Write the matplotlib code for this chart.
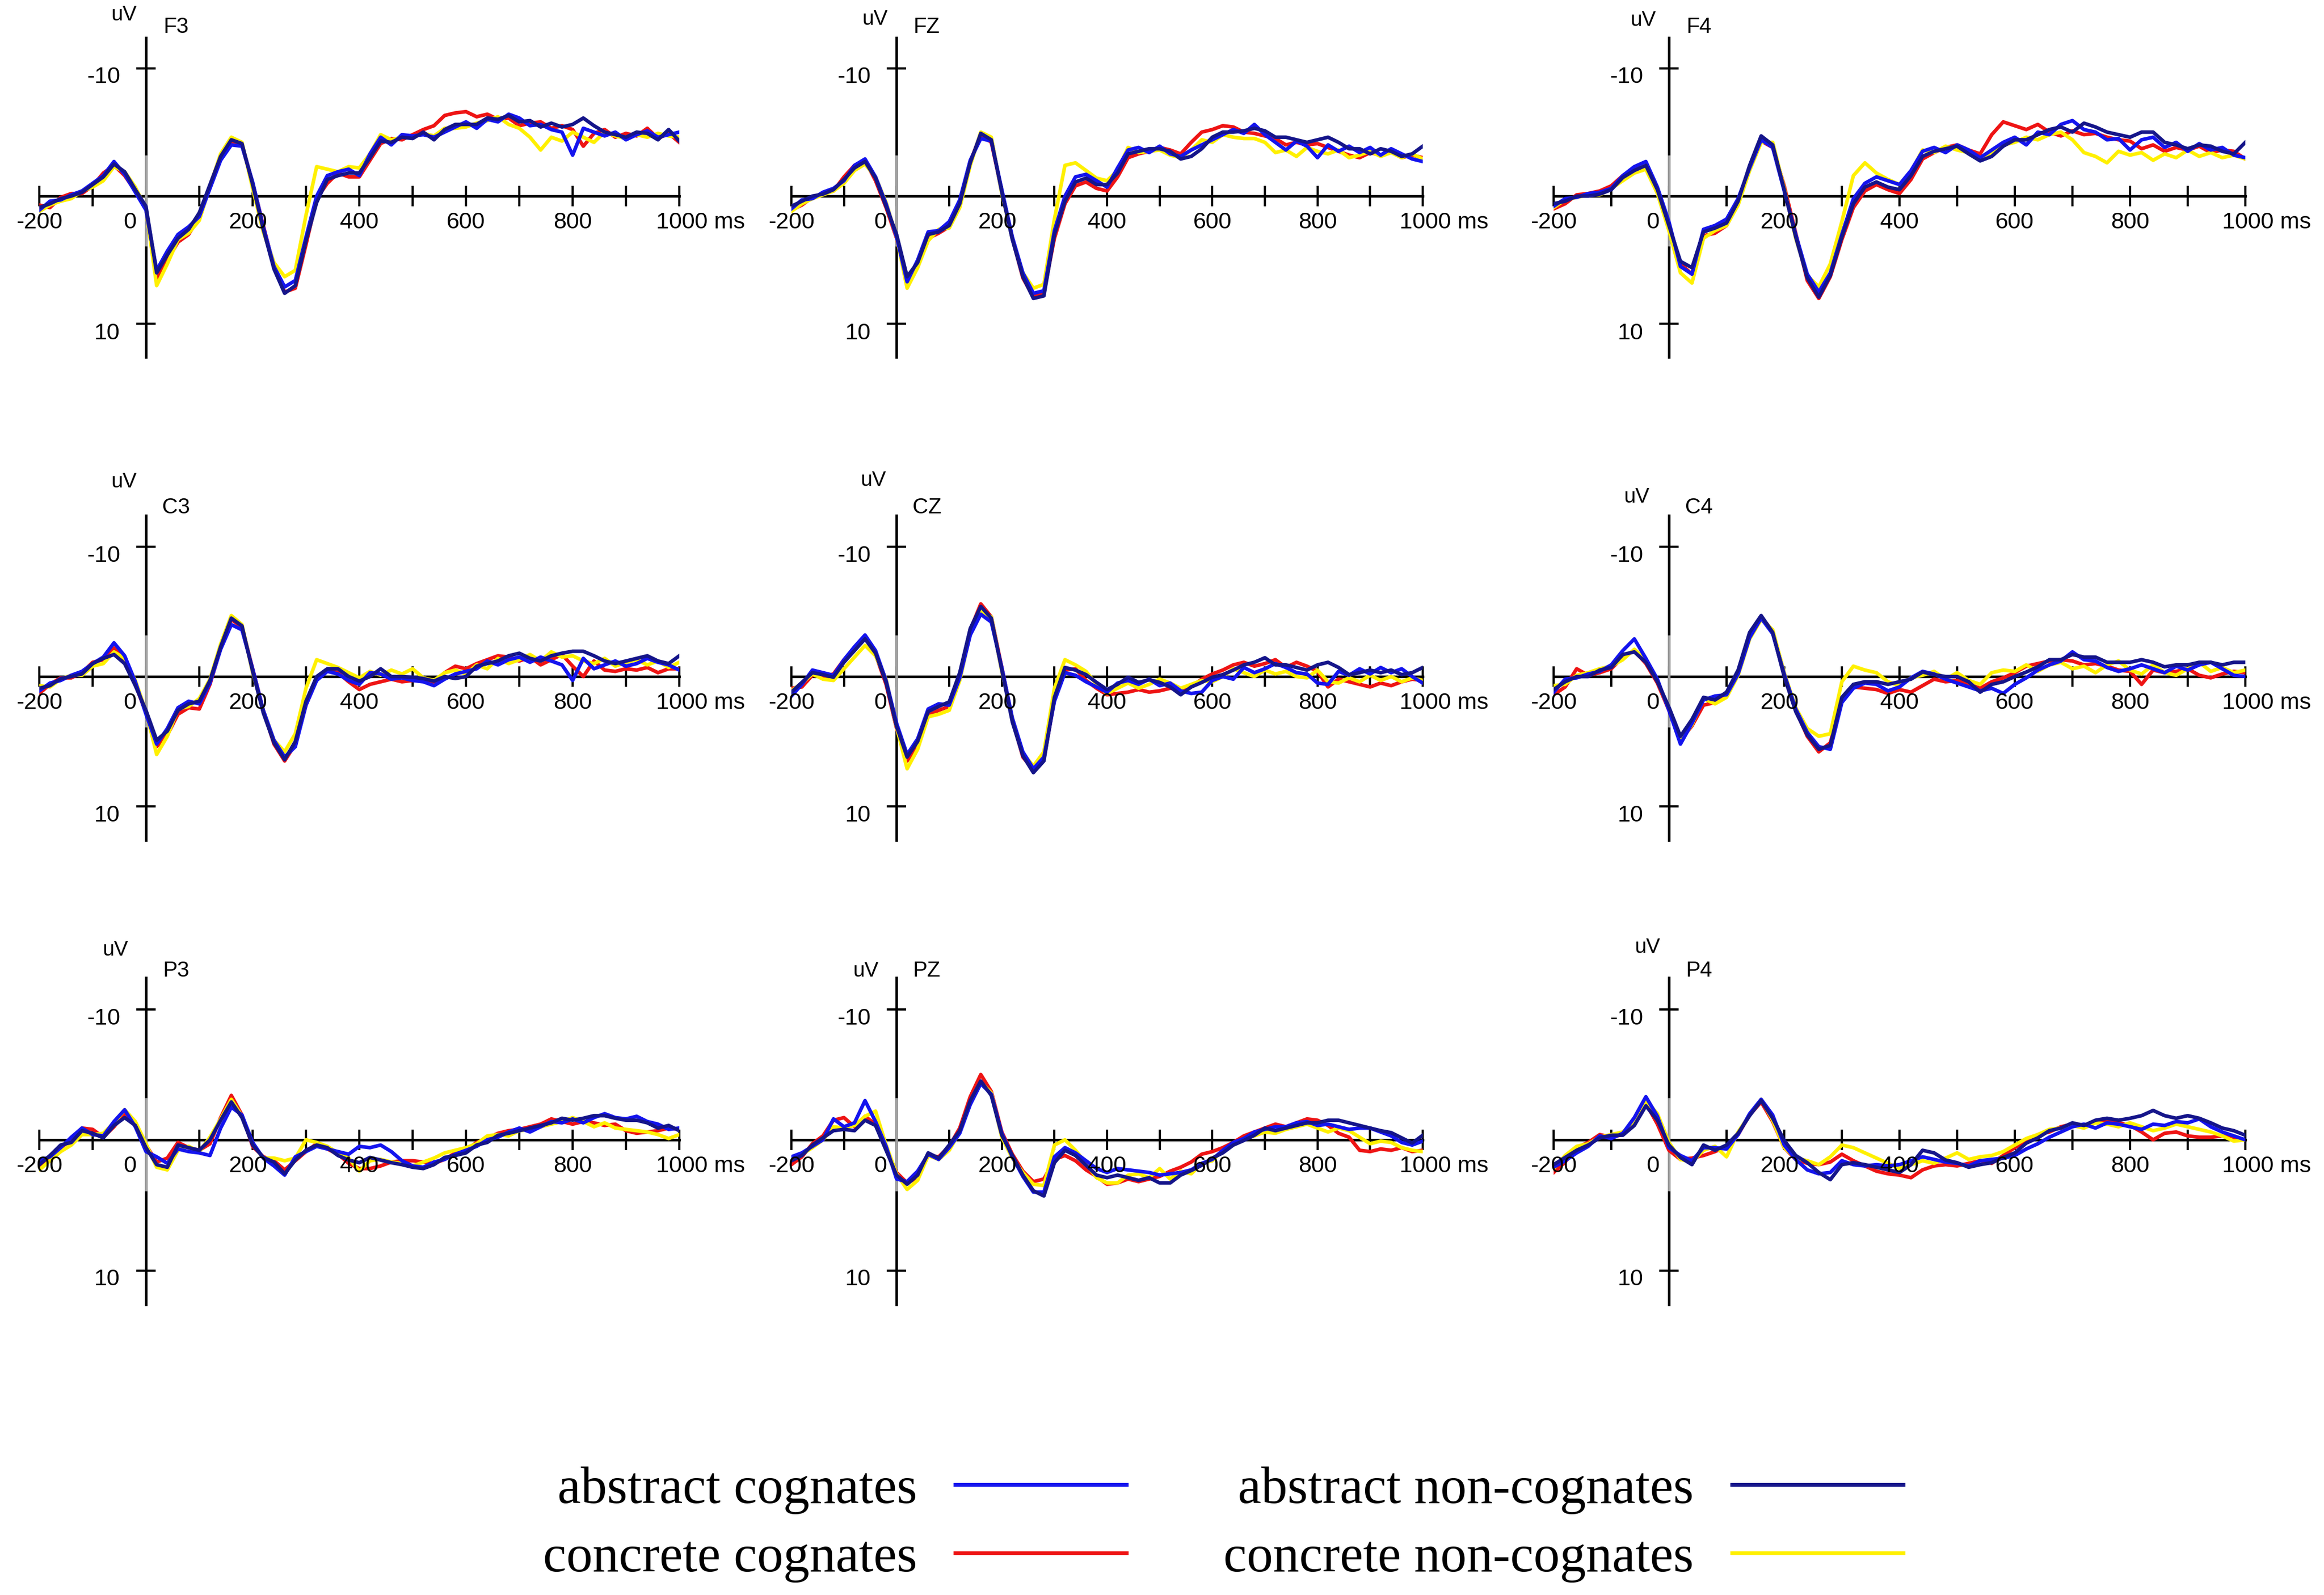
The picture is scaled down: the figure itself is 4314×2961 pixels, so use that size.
import matplotlib
matplotlib.use("Agg")
import matplotlib.pyplot as plt
from matplotlib.lines import Line2D

# ---------------- data ----------------
TIMES = list(range(-200, 1001, 20))  # sample times (ms)
X_TICKS = list(range(-200, 1001, 100))
X_LABELS = ["-200", "0", "200", "400", "600", "800", "1000 ms"]
X_LABEL_POS = [-200, 0, 200, 400, 600, 800, 1000]
Y_TICKS = [-10, 10]
Y_LABELS = ["-10", "10"]
CHANNELS = ["F3", "FZ", "F4", "C3", "CZ", "C4", "P3", "PZ", "P4"]
CONDITIONS = ["abstract cognates", "concrete cognates",
              "abstract non-cognates", "concrete non-cognates"]

F3_AC = [1.1, 0.4, 0.3, -0.1, -0.4, -1.0, -1.6, -2.7, -1.7, -0.3,
         1.1, 5.8, 4.3, 3.0, 2.4, 1.6, -0.6, -2.8, -4.0, -3.9,
         -1.1, 2.4, 5.5, 7.1, 6.6, 3.2, 0.0, -1.6, -1.9, -2.1,
         -1.6, -3.3, -4.6, -4.0, -4.8, -4.7, -4.8, -4.6, -5.0, -5.4,
         -5.8, -5.3, -6.0, -5.8, -6.4, -6.1, -5.5, -5.6, -5.2, -5.0,
         -3.2, -5.3, -5.0, -4.7, -5.0, -4.4, -4.8, -5.1, -4.6, -4.8,
         -5.0]
F3_CC = [0.7, 0.9, 0.1, -0.2, -0.2, -0.8, -1.8, -2.4, -1.6, -0.4,
         1.0, 6.4, 5.0, 3.6, 3.0, 1.6, -0.7, -3.0, -4.3, -4.0,
         -1.0, 2.3, 5.6, 7.5, 7.2, 3.8, 0.2, -1.0, -1.8, -1.5,
         -1.5, -2.8, -4.1, -4.5, -4.4, -4.8, -5.2, -5.5, -6.3, -6.5,
         -6.6, -6.2, -6.4, -6.0, -6.1, -5.5, -5.7, -5.8, -5.3, -5.5,
         -5.2, -3.9, -4.9, -5.2, -4.6, -4.9, -4.7, -5.3, -4.5, -4.9,
         -4.2]
F3_ANC = [0.9, 0.6, 0.2, 0.0, -0.3, -0.9, -1.5, -2.5, -1.9, -0.5,
          0.8, 6.0, 4.6, 3.3, 2.6, 1.3, -0.9, -3.1, -4.4, -4.1,
          -0.9, 2.6, 5.7, 7.6, 7.0, 3.5, 0.5, -1.3, -1.6, -1.8,
          -1.8, -3.0, -4.3, -4.2, -4.6, -4.5, -5.0, -4.4, -5.2, -5.6,
          -5.6, -5.6, -6.1, -6.0, -6.3, -5.8, -5.9, -5.4, -5.7, -5.4,
          -5.6, -6.1, -5.5, -5.0, -4.8, -4.6, -5.0, -4.9, -4.4, -5.2,
          -4.3]
F3_CNC = [1.2, 0.7, 0.4, 0.2, -0.4, -0.7, -1.2, -2.3, -1.9, -0.7,
          1.0, 7.0, 5.3, 3.4, 2.9, 1.9, -0.8, -3.3, -4.6, -4.2,
          -0.6, 2.8, 5.2, 6.3, 5.8, 1.5, -2.3, -2.1, -1.9, -2.3,
          -2.2, -3.3, -4.8, -4.4, -4.6, -4.6, -4.9, -4.7, -5.3, -5.3,
          -5.4, -5.7, -5.9, -6.2, -5.6, -5.3, -4.6, -3.6, -4.6, -4.3,
          -5.0, -4.6, -4.2, -5.0, -4.7, -4.5, -4.8, -4.6, -4.9, -4.7,
          -4.6]

FZ_AC = [1.0, 0.3, 0.2, -0.3, -0.6, -1.2, -2.4, -2.9, -1.5, 0.6,
         3.2, 6.7, 5.0, 2.8, 2.7, 2.0, 0.3, -2.8, -4.5, -4.3,
         -0.5, 3.2, 6.0, 7.6, 7.4, 2.7, 0.0, -1.5, -1.7, -1.2,
         -0.7, -2.2, -3.6, -3.8, -3.4, -3.9, -3.3, -3.1, -3.6, -4.0,
         -4.4, -4.8, -5.2, -4.9, -5.6, -4.8, -4.2, -3.6, -4.3, -3.9,
         -3.0, -4.0, -3.5, -3.9, -3.4, -3.8, -3.2, -3.7, -3.3, -2.9,
         -2.7]
FZ_CC = [1.1, 0.7, 0.1, -0.2, -0.4, -1.5, -2.4, -2.8, -1.2, 0.9,
         3.3, 6.6, 5.5, 3.3, 2.9, 2.4, 0.5, -2.7, -4.8, -4.2,
         -0.4, 3.3, 6.4, 7.9, 7.5, 3.3, 0.6, -0.8, -1.1, -0.6,
         -0.4, -1.5, -3.0, -3.3, -3.5, -3.8, -3.6, -3.3, -4.2, -5.0,
         -5.2, -5.5, -5.4, -5.0, -4.9, -4.7, -4.5, -4.0, -4.2, -4.0,
         -4.1, -3.8, -3.5, -3.2, -3.0, -3.4, -3.2, -3.5, -3.0, -3.2,
         -3.0]
FZ_ANC = [0.8, 0.4, 0.0, -0.15, -0.5, -1.3, -2.2, -2.7, -1.4, 0.8,
          3.0, 6.3, 5.2, 3.0, 2.8, 2.3, 0.6, -2.6, -4.9, -4.4,
          -0.3, 3.4, 6.3, 8.0, 7.8, 3.0, 0.4, -1.1, -1.4, -0.9,
          -0.9, -1.8, -3.3, -3.5, -3.7, -3.7, -3.5, -2.9, -3.1, -3.7,
          -4.6, -5.0, -5.0, -5.1, -5.3, -5.1, -4.6, -4.6, -4.4, -4.2,
          -4.4, -4.6, -4.2, -3.7, -3.7, -3.3, -3.7, -3.5, -3.1, -3.3,
          -3.9]
FZ_CNC = [1.2, 0.6, 0.2, -0.1, -0.4, -1.0, -2.0, -2.5, -1.5, 0.5,
          3.2, 7.2, 5.6, 3.5, 2.6, 2.5, 0.9, -2.4, -5.0, -4.6,
          -0.2, 3.3, 6.0, 7.2, 6.9, 1.8, -2.4, -2.6, -2.0, -1.4,
          -1.2, -2.0, -3.8, -3.4, -3.5, -3.6, -3.2, -3.0, -3.6, -4.4,
          -4.2, -4.8, -4.6, -4.5, -4.5, -4.2, -3.4, -3.6, -3.1, -3.8,
          -3.5, -3.3, -3.6, -3.0, -3.2, -3.5, -3.1, -3.4, -3.0, -3.3,
          -2.9]

F4_AC = [0.8, 0.2, 0.1, -0.2, -0.3, -0.6, -1.6, -2.3, -2.7, -0.7,
         2.0, 5.5, 6.1, 2.6, 2.3, 1.8, 0.2, -2.2, -4.4, -3.8,
         -0.4, 3.0, 6.1, 7.5, 6.0, 3.0, 0.2, -1.0, -1.5, -1.2,
         -0.9, -2.0, -3.5, -3.8, -3.4, -4.0, -3.6, -3.0, -3.6, -4.2,
         -4.6, -4.0, -5.0, -4.8, -5.6, -5.9, -5.2, -5.0, -4.4, -4.5,
         -3.6, -4.4, -4.6, -3.8, -4.2, -3.5, -4.1, -3.6, -3.8, -3.2,
         -3.0]
F4_CC = [1.0, 0.6, -0.1, -0.2, -0.4, -0.8, -1.6, -2.2, -2.2, -0.3,
         2.5, 5.3, 6.1, 3.1, 2.9, 2.3, 0.5, -2.2, -4.3, -3.8,
         -0.8, 2.9, 6.6, 8.0, 6.3, 3.4, 0.9, -0.4, -0.9, -0.5,
         -0.2, -1.3, -2.9, -3.4, -3.8, -4.0, -3.6, -3.3, -4.8, -5.8,
         -5.5, -5.2, -5.6, -5.0, -4.7, -5.1, -4.8, -4.9, -4.6, -4.4,
         -4.3, -3.7, -4.0, -3.5, -3.8, -3.6, -3.9, -3.4, -3.6, -3.5,
         -2.9]
F4_ANC = [0.6, 0.4, 0.0, 0.0, -0.15, -0.5, -1.45, -2.0, -2.4, -0.5,
          2.3, 5.1, 5.6, 2.8, 2.5, 2.1, 0.4, -2.4, -4.7, -4.0,
          -0.5, 3.2, 6.4, 7.9, 6.2, 3.2, 0.6, -0.7, -1.1, -0.7,
          -0.5, -1.6, -3.1, -3.5, -3.7, -3.9, -3.3, -2.75, -3.1, -3.9,
          -4.4, -4.4, -4.8, -5.2, -5.4, -5.0, -5.7, -5.4, -5.0, -4.8,
          -4.6, -5.0, -5.0, -4.2, -4.0, -3.7, -4.0, -3.9, -3.5, -3.3,
          -4.2]
F4_CNC = [0.9, 0.3, 0.1, -0.1, -0.1, -0.6, -1.2, -1.8, -2.1, -0.2,
          2.7, 6.0, 6.8, 3.3, 2.7, 2.3, 0.7, -2.0, -4.2, -4.2,
          -0.6, 3.3, 6.2, 7.1, 5.3, 2.0, -1.6, -2.6, -1.8, -1.3,
          -0.9, -1.9, -3.6, -3.4, -3.9, -3.6, -3.4, -3.0, -3.4, -4.0,
          -4.2, -4.6, -4.4, -4.8, -5.0, -4.4, -3.4, -3.1, -2.6, -3.5,
          -3.2, -3.4, -2.8, -3.3, -3.0, -3.6, -3.1, -3.4, -3.0, -3.2,
          -2.9]

C3_AC = [1.1, 0.5, 0.3, -0.1, -0.4, -1.0, -1.5, -2.6, -1.6, 0.4,
         2.9, 5.2, 4.0, 2.4, 1.9, 2.1, 0.5, -2.1, -4.0, -3.6,
         -0.6, 2.6, 4.9, 6.2, 5.4, 2.2, 0.3, -0.4, -0.2, 0.3,
         0.6, -0.3, -0.2, 0.2, 0.1, 0.3, 0.4, 0.7, 0.2, -0.2,
         -0.4, -0.6, -1.2, -0.9, -1.3, -1.5, -1.1, -1.5, -1.2, -0.9,
         0.3, -1.4, -0.6, -0.9, -1.2, -0.8, -1.0, -1.4, -1.1, -0.9,
         -0.5]
C3_CC = [1.3, 0.6, 0.1, 0.1, -0.3, -1.1, -1.3, -2.2, -1.2, 0.6,
         2.8, 5.4, 4.5, 2.9, 2.4, 2.5, 0.6, -2.2, -4.4, -3.8,
         -0.6, 2.6, 5.2, 6.5, 5.2, 2.2, 0.2, -0.5, -0.3, 0.4,
         1.0, 0.6, 0.4, 0.2, 0.4, 0.3, 0.2, 0.5, -0.3, -0.8,
         -0.6, -1.0, -1.3, -1.6, -1.5, -1.2, -1.5, -0.9, -1.3, -1.7,
         -0.8, 0.0, -1.2, -0.5, -0.4, -0.6, -0.5, -0.7, -0.3, -0.6,
         -0.6]
C3_ANC = [0.9, 0.7, 0.15, 0.0, -0.2, -1.0, -1.4, -1.7, -1.0, 0.7,
          2.6, 4.9, 4.2, 2.6, 2.1, 1.9, 0.3, -2.3, -4.5, -3.9,
          -0.4, 2.8, 5.1, 6.4, 5.0, 1.9, 0.0, -0.6, -0.6, 0.0,
          0.35, 0.0, -0.6, 0.0, 0.0, 0.05, 0.15, 0.35, 0.0, 0.15,
          0.0, -0.8, -1.0, -1.2, -1.6, -1.8, -1.4, -1.2, -1.6, -1.8,
          -1.95, -1.95, -1.6, -1.2, -1.0, -1.2, -1.4, -1.6, -1.2, -1.0,
          -1.6]
C3_CNC = [0.7, 0.8, 0.2, -0.1, -0.1, -0.8, -1.0, -1.9, -1.4, 0.3,
          2.7, 6.0, 4.6, 2.5, 2.3, 1.7, 0.2, -2.5, -4.7, -4.0,
          -0.3, 2.6, 4.9, 5.8, 4.4, 0.9, -1.3, -1.0, -0.7, -0.3,
          0.1, -0.4, -0.1, -0.5, -0.2, -0.6, 0.1, 0.3, -0.3, -0.5,
          -0.2, -0.9, -0.6, -1.4, -1.0, -1.3, -1.7, -1.2, -1.9, -1.5,
          -1.6, -1.2, -1.0, -1.4, -0.8, -1.1, -1.3, -0.9, -1.2, -0.7,
          -1.1]

CZ_AC = [1.5, 0.6, -0.5, -0.3, -0.1, -1.3, -2.3, -3.2, -2.0, 0.3,
         3.6, 6.0, 4.8, 2.5, 2.1, 2.2, 0.1, -3.2, -4.8, -4.2,
         -0.7, 3.2, 5.8, 7.1, 6.2, 1.9, -0.3, -0.1, 0.4, 0.8,
         1.2, 0.5, 0.3, 0.6, 0.2, 0.7, 0.5, 1.1, 1.3, 1.2,
         0.3, 0.0, 0.2, -0.7, -0.3, -0.6, -1.0, -0.7, -0.3, -0.2,
         0.5, 0.6, -0.4, -0.1, -0.6, -0.2, -0.7, -0.3, -0.6, 0.0,
         0.5]
CZ_CC = [0.9, 0.8, -0.1, 0.0, -0.2, -1.3, -2.2, -3.0, -1.7, 0.6,
         4.0, 6.5, 5.3, 3.0, 2.6, 2.3, -0.1, -3.6, -5.6, -4.6,
         -0.7, 3.3, 6.2, 7.2, 6.3, 1.8, -0.5, -0.6, 0.3, 0.9,
         1.4, 1.3, 1.2, 1.0, 1.2, 1.1, 0.9, 1.0, 0.8, 0.2,
         -0.2, -0.5, -0.9, -1.1, -0.8, -1.0, -1.3, -0.7, -1.1, -0.8,
         -0.4, 0.8, 0.2, 0.4, 0.6, 0.8, 0.5, 0.7, 0.4, 0.2,
         0.3]
CZ_ANC = [1.2, 0.45, -0.3, -0.15, 0.05, -1.1, -2.0, -2.9, -1.8, 0.45,
          3.85, 6.2, 5.0, 2.7, 2.3, 1.95, -0.3, -3.7, -5.4, -4.5,
          -0.5, 3.5, 6.1, 7.4, 6.5, 1.6, -0.7, -0.5, -0.15, 0.45,
          1.0, 0.6, 0.05, 0.45, 0.25, 0.45, 0.8, 1.4, 0.8, 0.45,
          0.05, -0.15, -0.5, -0.9, -1.1, -1.45, -0.9, -0.9, -0.7, -0.5,
          -0.9, -1.1, -0.7, -0.15, -0.3, -0.5, -0.3, -0.5, -0.15, -0.3,
          -0.7]
CZ_CNC = [1.1, 0.5, -0.2, 0.2, 0.3, -0.6, -1.5, -2.4, -1.6, 0.2,
          3.9, 7.1, 5.6, 3.1, 2.9, 2.6, 0.3, -3.3, -5.0, -4.6,
          -0.4, 3.2, 5.9, 6.9, 5.8, 0.9, -1.3, -0.9, -0.4, 0.6,
          1.3, 0.9, 0.5, 0.9, 0.6, 0.2, 0.5, 0.9, 0.6, 0.3,
          0.4, 0.0, -0.6, -0.3, 0.0, -0.5, -0.2, -0.4, 0.0, 0.1,
          -0.5, 0.4, 0.5, 0.1, 0.4, -0.1, 0.3, 0.0, 0.4, 0.1,
          0.3]

C4_AC = [1.2, 0.2, 0.1, -0.2, -0.4, -0.9, -2.0, -2.9, -1.4, 0.2,
         2.6, 5.2, 3.6, 1.8, 1.5, 1.4, -0.2, -3.0, -4.5, -3.3,
         -0.2, 2.5, 4.3, 5.4, 5.6, 2.0, 0.9, 0.5, 0.6, 1.1,
         0.8, 0.1, -0.4, -0.2, 0.2, 0.5, 0.8, 1.1, 0.9, 1.3,
         0.6, 0.1, -0.5, -0.9, -1.2, -1.9, -1.3, -1.2, -0.7, -0.4,
         -0.6, -0.9, -0.6, -0.3, -0.8, -0.5, -0.9, -1.1, -0.6, -0.1,
         0.0]
C4_CC = [1.4, 0.8, -0.6, -0.1, -0.3, -0.6, -1.5, -2.0, -1.0, 0.5,
         2.6, 4.9, 3.8, 2.2, 2.0, 1.4, -0.3, -3.2, -4.6, -3.5,
         -0.1, 2.6, 4.6, 5.8, 5.1, 1.8, 0.8, 0.9, 1.0, 1.3,
         1.0, 1.2, 0.7, 0.2, 0.4, 0.3, 0.6, 0.9, 0.4, 0.1,
         -0.3, -0.8, -1.0, -1.2, -1.3, -1.2, -0.9, -1.0, -0.8, -0.5,
         -0.4, 0.6, -0.5, -0.3, -0.4, -0.6, -0.1, 0.1, -0.2, -0.4,
         -0.3]
C4_ANC = [1.0, 0.4, 0.0, 0.0, -0.5, -0.7, -1.7, -1.9, -1.1, 0.4,
          2.35, 4.6, 3.3, 1.6, 1.8, 1.2, -0.5, -3.4, -4.7, -3.4,
          0.0, 2.7, 4.5, 5.6, 5.3, 1.6, 0.6, 0.4, 0.4, 0.6,
          0.4, 0.2, -0.35, -0.15, 0.0, 0.0, 0.4, 1.2, 0.6, 0.4,
          0.0, -0.35, -0.75, -1.3, -1.3, -1.7, -1.5, -1.5, -1.1, -1.1,
          -1.1, -1.3, -1.1, -0.75, -0.9, -0.9, -1.1, -1.1, -0.9, -1.1,
          -1.1]
C4_CNC = [0.7, 0.6, -0.1, -0.3, -0.6, -0.8, -1.3, -2.1, -1.3, 0.3,
          2.5, 5.0, 3.7, 1.7, 2.1, 1.6, -0.1, -2.9, -4.4, -3.6,
          -0.3, 2.4, 4.0, 4.6, 4.4, 0.4, -0.8, -0.5, -0.3, 0.4,
          0.7, 0.1, -0.1, -0.4, 0.2, -0.3, 0.3, 0.6, -0.3, -0.5,
          -0.4, -0.9, -0.4, -0.9, -1.1, -0.6, -0.8, -0.3, -0.9, -1.2,
          -0.5, -0.2, -0.9, -0.3, -0.1, -0.6, -1.1, -0.4, -0.7, -0.3,
          -0.5]

P3_AC = [1.6, 1.3, 0.6, -0.2, -0.9, -0.4, -0.3, -1.4, -2.3, -1.0,
         0.9, 1.3, 1.8, 0.7, 0.9, 1.0, 1.2, -0.9, -2.5, -1.9,
         0.2, 1.4, 2.0, 2.7, 1.3, 0.9, 0.5, 0.7, 0.9, 1.1,
         0.5, 0.6, 0.4, 0.9, 1.6, 2.0, 2.1, 1.7, 1.5, 1.1,
         0.8, 0.5, 0.0, -0.2, -0.6, -0.9, -0.6, -1.0, -1.4, -1.3,
         -1.6, -1.3, -1.7, -2.0, -1.7, -1.6, -1.8, -1.4, -1.2, -0.8,
         -0.9]
P3_CC = [2.0, 1.5, 0.6, 0.0, -0.9, -0.8, -0.2, -1.0, -2.0, -1.2,
         0.4, 1.7, 1.4, 0.2, 0.6, 0.8, 0.3, -1.7, -3.4, -1.9,
         0.5, 1.3, 1.6, 2.3, 1.6, 0.9, 0.3, 0.7, 1.1, 1.8,
         2.2, 2.2, 2.0, 1.7, 1.6, 1.6, 1.7, 1.8, 1.5, 1.0,
         0.8, 0.2, -0.1, -0.5, -0.7, -0.8, -1.0, -1.2, -1.6, -1.4,
         -1.2, -1.4, -1.3, -1.1, -1.2, -0.7, -0.5, -0.6, -0.7, -0.9,
         -0.8]
P3_ANC = [1.9, 1.2, 0.4, 0.2, -0.7, -0.5, -0.15, -1.1, -1.7, -1.1,
          0.6, 1.9, 2.1, 0.4, 0.6, 0.8, 0.0, -1.5, -2.9, -1.7,
          0.4, 1.35, 1.7, 2.6, 1.55, 0.8, 0.4, 0.6, 1.2, 1.55,
          1.75, 1.35, 1.55, 1.75, 1.9, 2.1, 2.2, 1.9, 1.35, 1.2,
          1.0, 0.4, 0.2, -0.35, -0.5, -0.7, -0.9, -1.1, -1.3, -1.65,
          -1.5, -1.65, -1.85, -1.85, -1.65, -1.5, -1.5, -1.3, -0.9, -1.1,
          -0.7]
P3_CNC = [2.3, 1.6, 0.9, 0.4, -0.4, -0.4, -0.5, -1.3, -2.3, -1.4,
          0.3, 2.1, 2.3, 0.8, 0.5, 0.9, -0.2, -1.6, -3.1, -1.8,
          0.3, 1.4, 1.4, 1.6, 1.4, 0.0, 0.2, 0.5, 1.0, 1.4,
          2.4, 1.6, 1.5, 1.7, 1.8, 2.0, 1.7, 1.4, 1.0, 0.8,
          0.6, 0.3, -0.3, -0.4, -0.3, -0.7, -0.8, -1.0, -1.2, -1.4,
          -1.7, -1.4, -1.0, -1.3, -0.9, -0.8, -0.7, -0.6, -0.4, -0.1,
          -0.4]

PZ_AC = [1.3, 1.0, 0.5, 0.0, -1.6, -1.0, -1.3, -3.0, -1.4, 0.5,
         3.0, 3.2, 2.4, 1.1, 1.5, 0.6, -0.5, -2.7, -4.3, -3.5,
         -0.5, 1.3, 2.8, 4.0, 4.0, 1.3, 0.6, 1.0, 1.6, 2.2,
         2.5, 2.2, 2.3, 2.4, 2.5, 2.7, 2.6, 2.5, 2.3, 1.8,
         1.5, 0.8, 0.2, -0.1, -0.6, -0.8, -1.0, -1.0, -1.3, -1.4,
         -1.1, -1.2, -1.0, -0.8, -0.9, -0.9, -0.6, -0.3, 0.2, 0.4,
         0.1]
PZ_CC = [1.9, 1.3, 0.3, -0.3, -1.5, -1.7, -1.0, -1.8, -1.2, 0.7,
         2.5, 3.3, 2.9, 1.2, 1.3, 0.5, -0.9, -3.3, -5.0, -3.7,
         -0.6, 1.1, 2.4, 3.2, 3.0, 1.5, 1.2, 1.6, 2.3, 2.8,
         3.4, 3.3, 3.0, 3.2, 3.0, 2.8, 2.4, 2.1, 1.7, 1.1,
         0.9, 0.6, 0.2, -0.3, -0.6, -0.9, -1.2, -1.0, -1.3, -1.6,
         -1.5, -1.1, -0.5, -0.2, 0.8, 0.9, 0.7, 0.8, 0.6, 0.9,
         0.8]
PZ_ANC = [1.6, 1.2, 0.4, -0.15, -0.7, -0.8, -0.7, -1.5, -1.1, 0.8,
          2.7, 3.4, 2.7, 1.0, 1.4, 0.4, -0.7, -3.0, -4.5, -3.4,
          -0.35, 1.2, 2.7, 3.9, 4.3, 1.75, 0.8, 1.2, 1.95, 2.7,
          2.9, 2.7, 2.9, 3.1, 2.9, 3.3, 3.3, 2.7, 2.35, 1.95,
          1.4, 1.0, 0.4, 0.05, -0.35, -0.9, -0.7, -0.9, -1.1, -1.3,
          -1.3, -1.5, -1.5, -1.3, -1.1, -0.9, -0.7, -0.55, -0.15, 0.25,
          -0.35]
PZ_CNC = [1.5, 1.1, 0.6, 0.0, -1.0, -0.9, -1.1, -1.8, -2.2, 0.4,
          2.6, 3.8, 3.1, 1.2, 1.5, 0.8, -0.6, -2.9, -4.4, -3.6,
          -0.2, 1.4, 2.5, 3.4, 3.5, 0.4, 0.0, 0.8, 1.8, 2.9,
          3.3, 3.3, 2.7, 2.6, 2.9, 2.2, 3.0, 2.4, 2.6, 1.8,
          1.6, 0.8, 0.4, -0.1, -0.3, -0.6, -0.5, -0.8, -1.0, -1.2,
          -0.9, -0.6, -0.9, -0.7, -0.2, 0.3, 0.1, 0.2, 0.6, 0.8,
          0.9]

P4_AC = [2.1, 1.6, 1.0, 0.5, -0.3, -0.1, -0.5, -1.7, -3.3, -1.8,
         0.6, 1.2, 1.6, 0.6, 0.6, 0.7, -0.4, -2.0, -3.1, -1.9,
         0.4, 1.5, 2.3, 2.6, 2.5, 1.6, 1.9, 2.0, 1.9, 2.0,
         1.9, 1.6, 1.3, 1.5, 1.7, 1.8, 2.0, 1.6, 1.5, 1.4,
         1.2, 0.7, 0.3, -0.2, -0.6, -1.0, -1.2, -0.9, -1.3, -1.2,
         -1.0, -0.8, -1.2, -1.1, -1.4, -1.3, -1.6, -1.0, -0.6, -0.3,
         0.0]
P4_CC = [2.5, 1.7, 0.6, 0.2, -0.4, -0.2, -0.4, -1.4, -2.8, -1.2,
         0.8, 1.5, 1.4, 1.2, 0.9, 0.5, -0.4, -1.9, -2.9, -1.4,
         0.6, 1.5, 1.8, 1.9, 1.7, 1.1, 1.6, 2.0, 2.4, 2.6,
         2.7, 2.9, 2.3, 2.0, 1.9, 2.0, 1.8, 1.6, 1.8, 1.2,
         0.6, 0.1, -0.4, -0.6, -1.0, -1.2, -1.0, -1.4, -1.5, -1.3,
         -1.1, -0.6, 0.0, -0.5, -0.6, -0.3, -0.2, -0.2, -0.3, -0.1,
         0.0]
P4_ANC = [1.9, 1.35, 0.8, 0.4, -0.15, -0.35, -0.35, -1.1, -2.6, -1.5,
          0.4, 1.35, 1.9, 0.4, 0.8, 0.4, -0.5, -1.85, -3.0, -1.65,
          0.05, 1.2, 1.75, 2.5, 3.05, 1.9, 1.75, 1.9, 2.1, 2.3,
          2.5, 1.9, 0.8, 1.0, 1.55, 1.75, 2.1, 1.9, 1.75, 1.35,
          1.0, 0.25, -0.15, -0.7, -0.9, -1.3, -1.1, -1.5, -1.65, -1.5,
          -1.65, -1.85, -2.25, -1.85, -1.65, -1.85, -1.65, -1.3, -0.9, -0.7,
          -0.35]
P4_CNC = [2.2, 1.2, 0.5, 0.3, -0.2, -0.4, -0.6, -1.3, -3.0, -2.0,
          0.2, 1.5, 1.7, 0.8, 0.5, 1.3, -0.6, -1.9, -3.1, -1.5,
          0.6, 1.4, 1.6, 1.9, 1.3, 0.4, 0.6, 1.0, 1.4, 1.8,
          2.2, 1.9, 1.6, 1.8, 1.4, 1.0, 1.5, 1.3, 1.2, 0.9,
          0.4, -0.1, -0.4, -0.8, -0.9, -1.1, -0.9, -1.3, -1.2, -1.0,
          -1.3, -1.0, -0.7, -0.9, -1.2, -1.0, -0.8, -0.6, -0.3, 0.1,
          0.0]

PANEL_SERIES = [
    (F3_AC, F3_CC, F3_ANC, F3_CNC),
    (FZ_AC, FZ_CC, FZ_ANC, FZ_CNC),
    (F4_AC, F4_CC, F4_ANC, F4_CNC),
    (C3_AC, C3_CC, C3_ANC, C3_CNC),
    (CZ_AC, CZ_CC, CZ_ANC, CZ_CNC),
    (C4_AC, C4_CC, C4_ANC, C4_CNC),
    (P3_AC, P3_CC, P3_ANC, P3_CNC),
    (PZ_AC, PZ_CC, PZ_ANC, PZ_CNC),
    (P4_AC, P4_CC, P4_ANC, P4_CNC),
]

# ---------------- style / layout ----------------
COLORS = ["#1414ee", "#ee1414", "#15158a", "#fff000"]  # AC, CC, ANC, CNC
DRAW_ORDER = [1, 3, 0, 2]  # red, yellow, blue, navy on top
SANS = ["Liberation Sans", "DejaVu Sans"]
SERIF = ["Liberation Serif", "DejaVu Serif"]
GRAY_SEG = (-3.2, 3.9)  # light-grey stretch of the 0 ms line

W, H, DPI = 4314, 2961, 100
PT = 72.0 / DPI  # points per pixel
COLS = [(73, 1261), (1469, 2641), (2884, 4168)]       # px of -200 ms, 1000 ms
ROWS = [(364, 23.75), (1256, 24.1), (2116, 24.25)]    # px of 0 uV, px per uV
UV_OFF = [(-41, 336), (-40, 328), (-48, 326),
          (-41, 361), (-43, 364), (-60, 333),
          (-57, 352), (-57, 313), (-40, 357)]
TICK_FS = 31

fig = plt.figure(figsize=(W / DPI, H / DPI), dpi=DPI)
fig.patch.set_facecolor("white")

for i, ch in enumerate(CHANNELS):
    r, c = divmod(i, 3)
    x1, x2 = COLS[c]
    y0, s = ROWS[r]
    ax = fig.add_axes([x1 / W, 1 - (y0 + 13 * s) / H,
                       (x2 - x1) / W, 26 * s / H])
    ax.set_xlim(-200, 1000)
    ax.set_ylim(13, -13)
    ax.patch.set_alpha(0)
    for sp in ("top", "right"):
        ax.spines[sp].set_visible(False)
    ax.spines["left"].set_position(("data", 0))
    ax.spines["left"].set_bounds(-12.4, 12.6)
    ax.spines["bottom"].set_position(("data", 0))
    ax.spines["bottom"].set_bounds(-200, 1000)
    for sp in ("left", "bottom"):
        ax.spines[sp].set_linewidth(3.4)
        ax.spines[sp].set_color("black")
    ax.set_xticks(X_TICKS)
    ax.set_xticklabels([])
    ax.set_yticks(Y_TICKS)
    ax.set_yticklabels([])
    ax.tick_params(axis="x", direction="inout", length=28, width=3.0)
    ax.tick_params(axis="y", direction="inout", length=26, width=3.0)
    ax.vlines(0, GRAY_SEG[0], GRAY_SEG[1], colors="#a0a0a0", lw=3.4,
              zorder=2.6)

    series = PANEL_SERIES[i]
    for k in DRAW_ORDER:
        ax.plot(TIMES, series[k], color=COLORS[k], lw=4.8,
                solid_joinstyle="round", zorder=3)

    for lab, pos in zip(X_LABELS, X_LABEL_POS):
        if pos == 1000:
            ax.annotate(lab, xy=(pos, 0), xytext=(-43 * PT, -49 * PT),
                        textcoords="offset points", ha="left", va="center",
                        fontsize=TICK_FS, family=SANS)
        else:
            dx = -30 if pos == 0 else (-8 if pos == 200 else 0)
            ax.annotate(lab, xy=(pos, 0), xytext=(dx * PT, -49 * PT),
                        textcoords="offset points", ha="center", va="center",
                        fontsize=TICK_FS, family=SANS)
    for lab, v in zip(Y_LABELS, Y_TICKS):
        ax.annotate(lab, xy=(0, v), xytext=(-48 * PT, -17 * PT),
                    textcoords="offset points", ha="right", va="center",
                    fontsize=TICK_FS, family=SANS)
    dxu, dyu = UV_OFF[i]
    ax.annotate("uV", xy=(0, 0), xytext=(dxu * PT, dyu * PT),
                textcoords="offset points", ha="center", va="center",
                fontsize=28, family=SANS)
    ax.annotate(ch, xy=(0, 0), xytext=(56 * PT, 314 * PT),
                textcoords="offset points", ha="center", va="center",
                fontsize=29, family=SANS)

handles = [Line2D([], [], color=COLORS[k], lw=5) for k in range(4)]
fig.legend(handles, CONDITIONS, ncol=2, markerfirst=False, frameon=False,
           loc="upper left", bbox_to_anchor=(1008 / W, 1 - 2722 / H),
           prop={"family": SERIF, "size": 70},
           handlelength=3.27, handletextpad=0.73, columnspacing=1.85,
           labelspacing=0.39, borderpad=0, borderaxespad=0)

fig.savefig("out.png", dpi=DPI, facecolor="white")
